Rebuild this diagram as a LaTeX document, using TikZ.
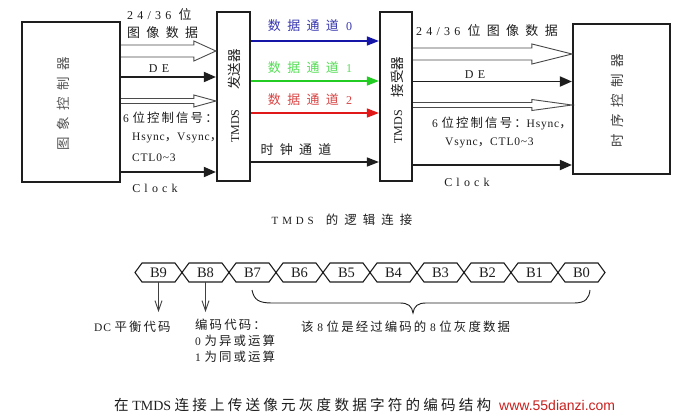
\documentclass[tikz,border=0pt]{standalone}
\usepackage{fontspec}
\setmainfont{Liberation Serif}
\newfontfamily\sans{Liberation Sans}
\newfontfamily\zhplain{Noto Sans CJK SC}[Scale=1.08]
\newfontfamily\zhmid{Noto Sans CJK SC}[Scale=1.08, LetterSpace=17]
\newfontfamily\zhcap{Noto Sans CJK SC}[Scale=1.04, LetterSpace=22]
\newfontfamily\zhwide{Noto Sans CJK SC}[Scale=1.08, LetterSpace=49]
\newfontfamily\zhbox{Noto Sans CJK SC}[Scale=1.08, LetterSpace=48]
\newfontfamily\sermid{Liberation Serif}[LetterSpace=7]
\newfontfamily\serwide{Liberation Serif}[LetterSpace=35]
\let\zhcur\zhplain
\newcommand{\Z}[1]{{\zhcur #1}}
\usetikzlibrary{arrows.meta, calc}
\definecolor{ink}{HTML}{1E1E1E}
\definecolor{boxgray}{HTML}{555555}
\definecolor{chblue}{HTML}{1515A8}
\definecolor{chbluetxt}{HTML}{3535B0}
\definecolor{chgreen}{HTML}{22CC22}
\definecolor{chgreentxt}{HTML}{55DD55}
\definecolor{chred}{HTML}{E01818}
\definecolor{chredtxt}{HTML}{D84444}
\definecolor{wmred}{HTML}{C8201E}

% wide hollow arrow: from, to, body half, head half, head length
\newcommand{\fatarrow}[5]{%
  \draw[hollow] let \p1=(#1), \p2=(#2) in
    (\x1,\y1+#3pt) -- (\x2-#5pt,\y1+#3pt) -- (\x2-#5pt,\y1+#4pt) -- (\x2,\y1)
    -- (\x2-#5pt,\y1-#4pt) -- (\x2-#5pt,\y1-#3pt) -- (\x1,\y1-#3pt);}

\begin{document}
\begin{tikzpicture}[x=1pt, y=-1pt,
  unit/.style={draw=ink, line width=2.2pt, inner sep=0pt},
  sig/.style={ink, line width=1.8pt, -{Triangle[length=12pt,width=10pt]}},
  chan/.style={line width=1.5pt, -{Triangle[length=12pt,width=9pt]}},
  hollow/.style={draw=ink!80, fill=white, line width=0.9pt, line join=miter},
  wtxt/.style={inner sep=0pt, text=ink, font=\fontsize{12}{14}\serwide\let\zhcur\zhwide},
  mtxt/.style={inner sep=0pt, text=ink, font=\fontsize{11.5}{20}\sermid\let\zhcur\zhmid},
  boxlbl/.style={inner sep=0pt, rotate=90, font=\fontsize{12.5}{14}\zhbox},
  unitlbl/.style={inner sep=0pt, rotate=90, text=ink, font=\fontsize{12}{14}\selectfont},
  celllbl/.style={inner sep=0pt, text=ink, font=\fontsize{14.5}{16}\selectfont},
  cell/.style={draw=ink, line width=1.1pt, line join=miter},
  pick/.style={ink!85, line width=0.9pt, -{Straight Barb[length=10pt,width=7pt]}},
]

% ---- page ----
\fill[white] (0,0) rectangle (674,418);
\useasboundingbox (0,0) rectangle (674,418);

% ---- units ----
\node[unit, minimum width=98pt, minimum height=160pt] (src) at (71,102) {};
\node[unit, minimum width=33pt, minimum height=169pt] (tx) at (233.5,96.5) {};
\node[unit, minimum width=32pt, minimum height=169pt] (rx) at (396,96.5) {};
\node[unit, minimum width=97pt, minimum height=150pt] (dst) at (621.5,99) {};

\node[boxlbl, text=boxgray] (srclbl) at (63,104) {图象控制器};
\node[boxlbl, text=ink!85] (dstlbl) at (617,101) {时序控制器};
\node[unitlbl] (txlbl) at (234,96) {TMDS\hspace{20pt}{\fontsize{12.5}{14}\zhplain 发送器}};
\node[unitlbl] (rxlbl) at (397,100) {TMDS\hspace{13pt}{\fontsize{12.5}{14}\zhplain 接受器}};

% ---- source -> transmitter ----
\fatarrow{src.east |- 0,51}{tx.west |- 0,51}{6}{10}{22}
\draw[sig] (src.east |- 0,77) -- (tx.west |- 0,77);
\fatarrow{src.east |- 0,101}{tx.west |- 0,101}{2.5}{6}{22}
\draw[sig] (src.east |- 0,172) -- (tx.west |- 0,172);

\node[wtxt, anchor=west] (ldat) at (127,15) {24/36 \Z{位}};
\node[wtxt, anchor=west] (ldat2) at (127,33) {\Z{图像数据}};
\node[wtxt] (lde) at (159,69) {DE};
\node[mtxt, anchor=west] (lctl) at (123,118) {6 \Z{位控制信号：}};
\node[mtxt, anchor=west] (lsync) at (132,138) {Hsync\Z{，}Vsync\Z{，}};
\node[mtxt, anchor=west] (lctl2) at (132,158) {CTL0\textasciitilde 3};
\node[wtxt] (lclk) at (155,188) {Clock};

% ---- TMDS channels ----
\draw[chan, chblue] (tx.east |- 0,41) -- (rx.west |- 0,41);
\draw[chan, chgreen] (tx.east |- 0,81) -- (rx.west |- 0,81);
\draw[chan, chred] (tx.east |- 0,113) -- (rx.west |- 0,113);
\draw[chan, ink] (tx.east |- 0,162) -- (rx.west |- 0,162);

\node[wtxt, text=chbluetxt] (ch0) at (310,26) {\Z{数据通道} 0};
\node[wtxt, text=chgreentxt] (ch1) at (310,68) {\Z{数据通道} 1};
\node[wtxt, text=chredtxt] (ch2) at (310,100) {\Z{数据通道} 2};
\node[wtxt] (chclk) at (296,150) {\Z{时钟通道}};

% ---- receiver -> timing controller ----
\fatarrow{rx.east |- 0,54}{dst.west |- 0,54}{6}{10}{40}
\draw[sig] (rx.east |- 0,81.5) -- (dst.west |- 0,81.5);
\fatarrow{rx.east |- 0,105}{dst.west |- 0,105}{2.5}{5.5}{40}
\draw[sig] (rx.east |- 0,165) -- (dst.west |- 0,165);

\node[wtxt, anchor=west] (rdat) at (416,31) {24/36 \Z{位图像数据}};
\node[wtxt] (rde) at (475,75) {DE};
\node[mtxt, anchor=west] (rctl) at (432,123) {6 \Z{位控制信号：}Hsync\Z{，}};
\node[mtxt, anchor=west] (rsync) at (445,143) {Vsync\Z{，}CTL0\textasciitilde 3};
\node[wtxt] (rclk) at (467,182) {Clock};

\node[wtxt, font=\fontsize{11}{12}\serwide\let\zhcur\zhwide] (cap1) at (342,220)
  {TMDS\hspace{12pt}{\fontsize{11.5}{12}\zhwide 的逻辑连接}};

% ---- 10-bit character ----
\foreach \i [count=\k from 0] in {9,8,...,0} {
  \draw[cell] (135+47*\k,272.5) -- ++(7,-9.5) -- ++(33,0) -- ++(7,9.5)
    -- ++(-7,9.5) -- ++(-33,0) -- cycle;
  \node[celllbl] (b\i) at (158.5+47*\k,272.5) {B\i};
}

\draw[pick] (b9 |- 0,282) -- ++(0,30);
\draw[pick] (b8 |- 0,282) -- ++(0,30);

% brace under B7..B0
\draw[ink, line width=0.9pt] (252,290) .. controls (254,300) and (259,303) .. (272,303)
  -- (400,303) .. controls (408,303) and (412,306) .. (413,313)
  .. controls (414,306) and (418,303) .. (426,303)
  -- (574,303) .. controls (586,303) and (589,298) .. (590,290);

\node[mtxt, anchor=west] (dclbl) at (94,327) {DC \Z{平衡代码}};
\node[mtxt, anchor=north west, align=left, font=\fontsize{11.5}{16}\sermid\let\zhcur\zhmid]
  (enclbl) at (195,319) {\Z{编码代码：}\\0 \Z{为异或运算}\\1 \Z{为同或运算}};
\node[mtxt, anchor=west] (bracelbl) at (301,327) {\Z{该} 8 \Z{位是经过编码的} 8 \Z{位灰度数据}};

% ---- caption and watermark ----
\node[anchor=west, inner sep=0pt, text=ink, font=\fontsize{14}{16}\selectfont\let\zhcur\zhcap]
  (cap2) at (114,405) {\Z{在} TMDS \Z{连接上传送像元灰度数据字符的编码结构}};
\node[anchor=west, fill=white, inner sep=2pt, text=wmred, font=\fontsize{14}{16}\sans]
  (wm) at (497,405) {www.55dianzi.com};

\end{tikzpicture}
\end{document}
